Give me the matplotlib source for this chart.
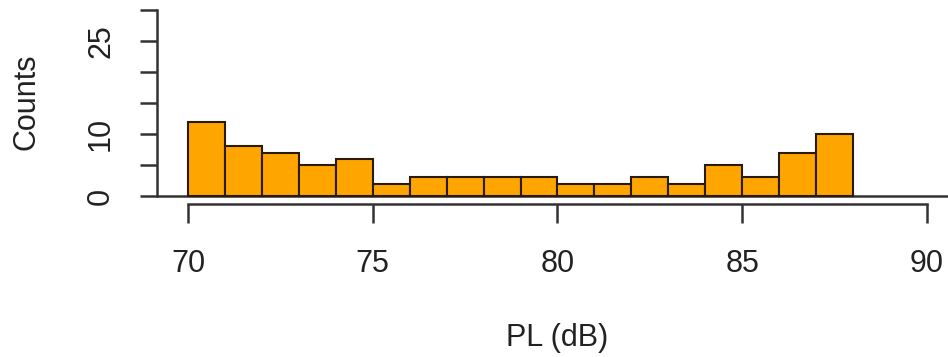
import numpy as np
import matplotlib
matplotlib.use("Agg")
import matplotlib.pyplot as plt

# Data
bin_edges = [70, 71, 72, 73, 74, 75, 76, 77, 78, 79, 80, 81, 82, 83, 84, 85, 86, 87, 88]
counts = [12, 8, 7, 5, 6, 2, 3, 3, 3, 3, 2, 2, 3, 2, 5, 3, 7, 10]
x_ticks = [70, 75, 80, 85, 90]
y_ticks = [0, 5, 10, 15, 20, 25, 30]
y_tick_labels = ["0", "", "10", "", "", "25", ""]
x_label = "PL (dB)"
y_label = "Counts"

plt.rcParams['font.family'] = ['Liberation Sans', 'DejaVu Sans']

W, H = 948, 357
fig = plt.figure(figsize=(W / 100, H / 100), dpi=100)
left_px, right_px, top_px, bottom_px = 157, 948, 10, 204
ax = fig.add_axes([left_px / W, 1 - bottom_px / H,
                   (right_px - left_px) / W, (bottom_px - top_px) / H])

axis_col = '#333333'
edges = np.array(bin_edges, dtype=float)
ax.bar(edges[:-1], counts, width=np.diff(edges), align='edge',
       color='#FFA500', edgecolor='#2a1a0a', linewidth=1.5, zorder=3)
ax.axhline(0, color=axis_col, lw=1.8, zorder=2)

px_per_unit = (927 - 188) / 20.0
ax.set_xlim(70 - (188 - left_px) / px_per_unit, 70 + (right_px - 188) / px_per_unit)
py_per_unit = (196 - 10) / 30.0
ax.set_ylim(-(bottom_px - 196) / py_per_unit, 30)

for s in ['top', 'right']:
    ax.spines[s].set_visible(False)
ax.spines['left'].set_bounds(0, 30)
ax.spines['bottom'].set_bounds(70, 90)
for s in ['left', 'bottom']:
    ax.spines[s].set_color(axis_col)
    ax.spines[s].set_linewidth(1.8)

ax.set_xticks(x_ticks)
ax.set_xticklabels([str(t) for t in x_ticks])
ax.set_yticks(y_ticks)
ax.set_yticklabels(y_tick_labels, rotation=90, va='center')
ax.tick_params(axis='x', direction='out', length=13.5, width=1.8, color=axis_col,
               labelsize=22, pad=19, labelcolor='#222222')
ax.tick_params(axis='y', direction='out', length=12.5, width=1.8, color=axis_col,
               labelsize=22, pad=17, labelcolor='#222222')

ax.set_xlabel(x_label, fontsize=22, color='#222222', va='center')
ax.xaxis.set_label_coords((557 - left_px) / (right_px - left_px),
                          -(338 - bottom_px) / (bottom_px - top_px))
ax.set_ylabel(y_label, fontsize=22, color='#222222', va='center')
ax.yaxis.set_label_coords(-(left_px - 27) / (right_px - left_px),
                          (bottom_px - 102) / (bottom_px - top_px))

fig.savefig('out.png', dpi=100)
